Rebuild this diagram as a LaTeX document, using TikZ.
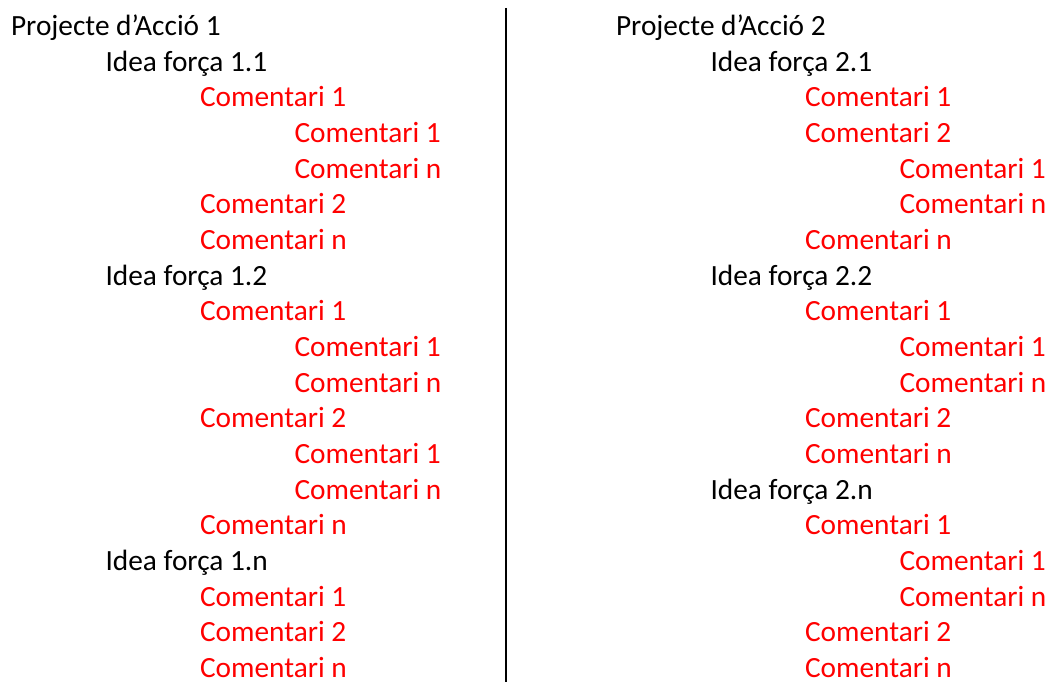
\documentclass[tikz,border=0pt]{standalone}
\usepackage{fontspec}
\setmainfont{Carlito}
\begin{document}
\begin{tikzpicture}[x=0.375pt,y=-0.375pt,thick,
  item/.style={anchor=base west,inner sep=0pt,font=\fontsize{11}{13}\selectfont},
  head/.style={item,black},
  com/.style={item,red}]
\useasboundingbox (0,0) rectangle (1047,682);
% left column
\foreach \lvl/\txt/\sty [count=\k] in {0/Projecte d’Acció 1/head,1/Idea força 1.1/head,
  2/Comentari 1/com,3/Comentari 1/com,3/Comentari n/com,2/Comentari 2/com,2/Comentari n/com,
  1/Idea força 1.2/head,2/Comentari 1/com,3/Comentari 1/com,3/Comentari n/com,2/Comentari 2/com,
  3/Comentari 1/com,3/Comentari n/com,2/Comentari n/com,
  1/Idea força 1.n/head,2/Comentari 1/com,2/Comentari 2/com,2/Comentari n/com}
  \node[\sty] (l\k) at (10+94.5*\lvl,35.7+35.65*\k-35.65) {\txt};
% right column
\foreach \lvl/\txt/\sty [count=\k] in {0/Projecte d’Acció 2/head,1/Idea força 2.1/head,
  2/Comentari 1/com,2/Comentari 2/com,3/Comentari 1/com,3/Comentari n/com,2/Comentari n/com,
  1/Idea força 2.2/head,2/Comentari 1/com,3/Comentari 1/com,3/Comentari n/com,2/Comentari 2/com,
  2/Comentari n/com,
  1/Idea força 2.n/head,2/Comentari 1/com,3/Comentari 1/com,3/Comentari n/com,2/Comentari 2/com,
  2/Comentari n/com}
  \node[\sty] (r\k) at (615+94.5*\lvl,35.7+35.65*\k-35.65) {\txt};
% separator
\coordinate (top) at (506,8);
\coordinate (bot) at (506,682);
\draw[line width=0.8pt] (top) -- (bot);
\end{tikzpicture}
\end{document}
